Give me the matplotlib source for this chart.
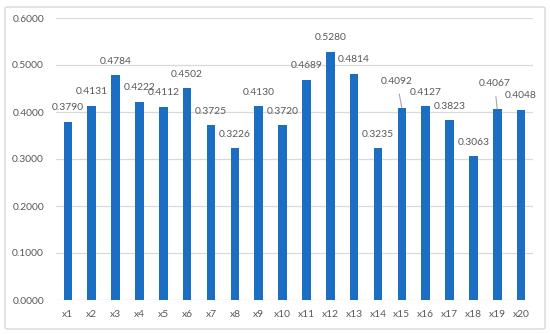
import matplotlib
matplotlib.use("Agg")
import matplotlib.pyplot as plt
from matplotlib.patches import FancyBboxPatch

categories = ["x1", "x2", "x3", "x4", "x5", "x6", "x7", "x8", "x9", "x10",
              "x11", "x12", "x13", "x14", "x15", "x16", "x17", "x18", "x19", "x20"]
values = [0.3790, 0.4131, 0.4784, 0.4222, 0.4112, 0.4502, 0.3725, 0.3226, 0.4130, 0.3720,
          0.4689, 0.5280, 0.4814, 0.3235, 0.4092, 0.4127, 0.3823, 0.3063, 0.4067, 0.4048]
yticks = [0.0, 0.1, 0.2, 0.3, 0.4, 0.5, 0.6]

plt.rcParams['font.family'] = ['Lato', 'DejaVu Sans']
txt = '#595959'
fs = 7.4

fig = plt.figure(figsize=(5.5, 3.34), dpi=100)
border = FancyBboxPatch((5/550, 5/334), 540/550, 322/334, boxstyle="round,pad=0,rounding_size=0.005",
                        transform=fig.transFigure, facecolor='white', edgecolor='#D9D9D9', lw=1,
                        zorder=-10)
fig.patches.append(border)

ax = fig.add_axes([56/550, 34/334, 477/550, 282/334])
ax.set_zorder(5)
x = list(range(len(categories)))
ax.bar(x, values, width=0.36, color='#1B6EC2', zorder=3)
ax.set_xlim(-0.5, len(categories) - 0.5)
ax.set_ylim(0, 0.6)
ax.set_yticks(yticks)
ax.set_yticklabels([f"{v:.4f}" for v in yticks])
ax.set_xticks(x)
ax.set_xticklabels(categories)
ax.tick_params(axis='both', length=0, labelsize=fs, colors=txt)
ax.tick_params(axis='y', pad=8.6)
ax.tick_params(axis='x', pad=7.5)
ax.grid(axis='y', color='#D9D9D9', lw=0.9, zorder=0)
for s in ax.spines.values():
    s.set_visible(False)
ax.set_facecolor('none')

raised = {14: (-3.6, 19), 18: (-2, 18)}
for i, v in enumerate(values):
    if i in raised:
        dx, dy = raised[i]
        ax.annotate(f"{v:.4f}", xy=(i, v), xytext=(dx, dy), textcoords='offset points',
                    ha='center', va='center', fontsize=fs, color=txt,
                    arrowprops=dict(arrowstyle='-', color='#A6A6A6', lw=0.8, shrinkA=4, shrinkB=0))
    else:
        ax.annotate(f"{v:.4f}", xy=(i, v), xytext=(0, 10), textcoords='offset points',
                    ha='center', va='center', fontsize=fs, color=txt)

fig.savefig("out.png", dpi=100)
